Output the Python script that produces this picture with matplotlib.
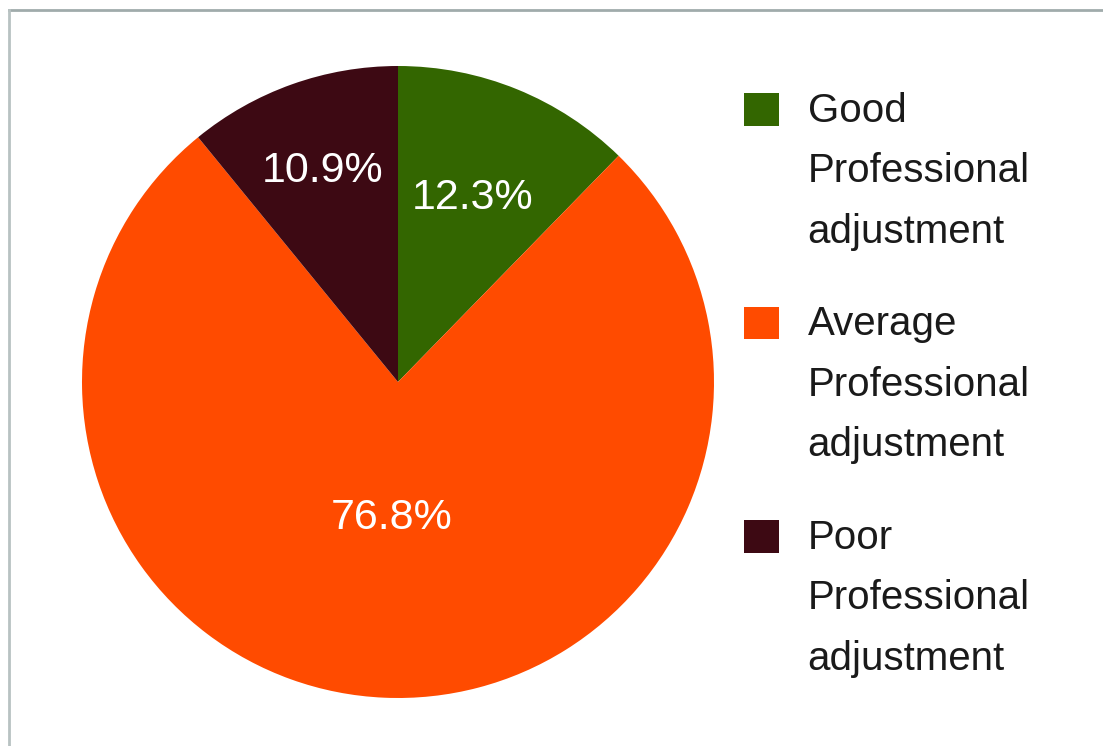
import numpy as np
import matplotlib.pyplot as plt
from matplotlib.lines import Line2D
from matplotlib.patches import Rectangle, Wedge
from matplotlib.legend_handler import HandlerPatch

categories = ['Good\nProfessional\nadjustment',
              'Average\nProfessional\nadjustment',
              'Poor\nProfessional\nadjustment']
values = [12.3, 76.8, 10.9]
colors = ['#336600', '#ff4b00', '#3d0913']
label_dist = [0.63, 0.43, 0.71]

plt.rcParams['font.family'] = ['Liberation Sans', 'DejaVu Sans']

LINE_PT = 63 * 72 / 100  # lift of the square up to the first label line, in points


class TopSquare(HandlerPatch):
    # put the colour square next to the first line of the label
    def create_artists(self, legend, orig_handle, xdescent, ydescent,
                       width, height, fontsize, trans):
        p = Rectangle((-xdescent, -ydescent + LINE_PT), width, height,
                      facecolor=orig_handle.get_facecolor(), lw=0,
                      transform=trans)
        return [p]


fig = plt.figure(figsize=(11.03, 7.46), dpi=100)
ax = fig.add_axes([82 / 1103, 48 / 746, 632 / 1103, 632 / 746])

wedges, texts, autotexts = ax.pie(values, colors=colors, startangle=90,
                                  counterclock=False, autopct='%.1f%%',
                                  wedgeprops=dict(linewidth=0),
                                  textprops=dict(color='white', fontsize=31))
for w, t, d in zip(wedges, autotexts, label_dist):
    ang = np.deg2rad((w.theta1 + w.theta2) / 2)
    t.set_position((d * np.cos(ang), d * np.sin(ang)))

ax.set_xlim(-1, 1)
ax.set_ylim(-1, 1)
ax.set_aspect('equal')

leg = fig.legend(wedges, categories, loc='upper left',
                 bbox_to_anchor=(744 / 1103, 1 - 92 / 746),
                 frameon=False, fontsize=29, borderpad=0, borderaxespad=0,
                 handlelength=0.86, handleheight=0.86, handletextpad=0.72,
                 labelspacing=1.35, labelcolor='#1a1a1a',
                 handler_map={Wedge: TopSquare()})
for t in leg.get_texts():
    t.set_linespacing(1.75)

# thin grey frame at top and left
fig.add_artist(Line2D([9 / 1103, 1], [1 - 10 / 746, 1 - 10 / 746],
                      transform=fig.transFigure, color='#a0abab', lw=2))
fig.add_artist(Line2D([9 / 1103, 9 / 1103], [0, 1 - 10 / 746],
                      transform=fig.transFigure, color='#b8c2c2', lw=2))

fig.savefig('out.png', dpi=100)
